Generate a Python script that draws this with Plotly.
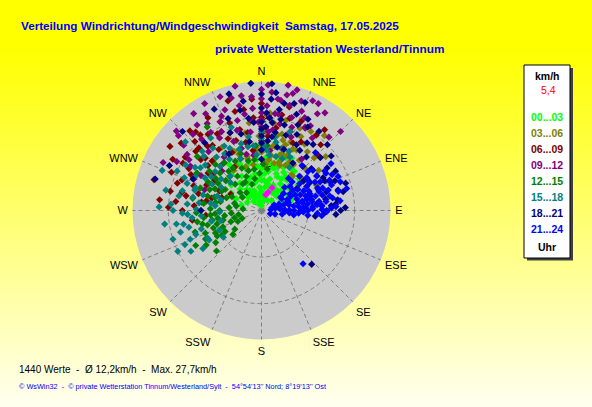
import plotly.graph_objects as go

W, H = 592, 407

# compass labels (every 22.5 degrees)
compass = ["N", "NNE", "NE", "ENE", "E", "ESE", "SE", "SSE",
           "S", "SSW", "SW", "WSW", "W", "WNW", "NW", "NNW"]
compass_deg = [i * 22.5 for i in range(16)]

# time classes (legend)
classes = ["00...03", "03...06", "06...09", "09...12",
           "12...15", "15...18", "18...21", "21...24"]
class_colors = ["#00ff00", "#808000", "#800000", "#800080",
                "#008000", "#008080", "#000080", "#0000ff"]

# wind direction (deg) / speed (km/h) per time class
dir_00_03 = [0, 340, 320, 330, 350, 10, 20, 30, 355, 345, 335, 325, 315, 305, 300, 310,
             5, 15, 25, 35, 45, 40, 50, 60, 30, 20, 10, 0, 350, 340, 330, 15, 25, 35,
             12, 5, 355, 320, 295, 285, 290, 55, 65, 45, 0,
             350, 5, 30, 40, 25, 15, 5, 355, 345, 335, 325, 330, 315, 300, 20, 30, 40,
             50, 60, 70, 15, 0, 340, 10, 35,
             358, 8, 18, 28, 38, 48, 352, 342, 332, 322, 2, 12, 22, 32, 42, 52, 57, 62,
             347, 337, 327, 7, 17, 27, 45, 36]
spd_00_03 = [1, 1.5, 2.5, 3, 3.5, 3, 4, 4.5, 5, 6, 7, 5.5, 6.5, 5, 7.5, 8.5,
             6.5, 7, 6, 7, 6, 8.5, 7.5, 6.5, 9.5, 10, 8.5, 9, 8, 9.5, 8.5, 12, 12.5, 11,
             14.5, 11.5, 11, 10, 6, 4.5, 8, 9.5, 4.5, 3, 6.5,
             2, 2, 2.5, 5, 8, 9.5, 8, 9.5, 10.5, 11, 12, 5, 4, 3.5, 11.5, 13, 11,
             10.5, 9, 7, 5.5, 4, 4.5, 10.5, 9,
             7.5, 5, 5.5, 5, 4.5, 4.5, 6.5, 7.5, 6.5, 7.5, 3.5, 6, 8.5, 8, 7, 6, 8, 8,
             3, 4, 4, 10, 9.5, 10.5, 9, 5.5]

dir_03_06 = [0, 5, 10, 15, 20, 25, 30, 35, 28, 32, 27, 17, 40, 45, 50, 355, 350, 345,
             340, 335, 330, 325, 20, 10, 0, 5, 15, 22, 38, 42, 8, 358, 348, 12, 30, 62,
             55, 320, 310, 300,
             0, 3, 8, 12, 18, 23, 28, 33, 37, 45, 50, 355, 350, 345, 338, 328, 318, 15,
             25, 5, 352, 40, 55, 65, 20]
spd_03_06 = [11, 10, 12, 10.5, 11, 13, 15, 12, 18, 20, 14.8, 15.8, 10, 13, 11, 13.5, 10, 12,
             10, 14, 11, 10.5, 13, 14, 12.5, 15, 17, 10.5, 16, 10, 19, 16, 17, 16.5, 12, 11,
             15, 13, 10, 12,
             14, 17, 11, 14, 12.5, 16, 11, 17, 13.5, 16, 18, 13, 15, 11.5, 13, 16, 15, 20,
             19.5, 21, 19, 21, 12, 13, 15]

dir_06_09 = [282, 281, 274, 291, 301, 316, 321, 343, 36, 24, 17, 280, 285, 290, 295, 300,
             305, 310, 315, 320, 325, 330, 335, 340, 345, 350, 355, 300, 305, 310, 312,
             318, 322, 328, 333, 338, 295, 288, 298, 5, 10, 15, 30, 42, 270, 265, 276,
             286, 347, 352,
             300, 305, 310, 315, 320, 325, 330, 335, 340, 345, 350, 355, 0, 0, 293, 297,
             303, 308, 313, 317, 323, 328, 333, 276, 283, 288, 272, 278, 284, 262, 20, 25,
             45, 38, 12]
spd_06_09 = [20, 16.5, 14.5, 18.3, 19.7, 20.6, 20.9, 24.6, 20, 21, 20.7, 12, 14, 15.5, 13, 16,
             14, 17, 15, 18, 16, 19, 17, 20, 18, 22, 20, 22, 24, 22.5, 19,
             23, 13, 11, 14, 12, 10, 9, 7.5, 16, 18, 23, 17, 19, 17, 12, 22,
             24, 15, 13,
             18, 20, 15, 19, 22, 20, 23, 21, 16, 22, 17, 24, 20, 23, 21, 17,
             12, 13, 16.5, 13, 17.5, 14.5, 19, 18.5, 17.5, 19, 20, 13, 11, 15, 18, 16,
             17, 22, 21]

dir_09_12 = [348, 16.4, 8.4, 15, 27.6, 313, 296, 310, 325, 42.6, 12.4, 0, 0, 0, 0, 0,
             355, 350, 345, 340, 335, 330, 338, 352, 358, 5, 5, 10, 20, 25, 30, 35, 22,
             18, 8, 3, 352, 342, 328, 320, 318, 305, 300, 290, 332, 3, 12, 28, 45, 38,
             48, 345, 315, 325, 300,
             0, 0, 0, 3, 3, 5, 8, 8, 10, 12, 15, 18, 20, 22, 25, 28, 30, 33, 355, 353,
             350, 348, 345, 343, 340, 337, 333, 330, 327, 323, 318, 312, 307, 302, 295]
spd_09_12 = [27.3, 27, 24.2, 23.4, 20.2, 25, 23.5, 21.8, 25.4, 21.4, 25.4, 24, 21, 18, 15, 13,
             22, 25, 20, 23, 21, 18, 16, 17, 19, 20, 17, 21, 25, 22, 24, 19, 17,
             14, 13, 13.5, 12, 14, 22, 20, 17, 19, 15, 13, 26, 27, 27.5, 26, 24, 14,
             17, 12.5, 12, 14, 21,
             26, 19.5, 16.5, 22.5, 18, 25.5, 21, 17.5, 24, 19, 26, 21, 19, 23, 26, 20, 21, 25,
             24.5, 19.5, 21, 23, 25, 18, 26, 22, 19, 24, 20, 23, 22, 24, 20, 18, 16]

dir_12_15 = [244, 245, 256, 259, 262, 250, 240, 235, 238, 248, 255, 265, 270, 275, 280, 285,
             290, 295, 300, 305, 310, 315, 320, 325, 330, 335, 340, 345, 350, 315, 300, 290,
             280, 270, 260, 252, 242, 327, 338, 310, 275, 260, 285, 305, 320, 340, 355, 5,
             230, 228,
             235, 240, 243, 247, 250, 253, 257, 260, 263, 266, 268, 272, 277, 282, 286, 292,
             296, 298, 302, 307, 312, 317, 322, 326, 332, 336, 342, 348, 352, 357, 2, 8,
             265, 255, 248, 280, 295, 310, 325, 238]
spd_12_15 = [11, 5.6, 8.5, 10.8, 8, 7, 9, 12, 14, 13, 12, 11, 9, 7, 10, 12,
             8, 11, 9, 12, 10, 8, 11, 9, 7, 10, 13, 11, 9, 14, 16, 14,
             15, 13, 14, 15, 16, 21.4, 18, 18, 4, 5, 6, 5, 5, 6, 14, 14,
             8, 13,
             7, 11, 13.5, 9, 11, 10, 13, 9.5, 12.5, 10, 14, 11, 12.5, 9, 10.5, 12,
             9.5, 13, 11, 14, 12, 10, 13, 11, 12, 8, 9, 7, 11, 8, 10, 9,
             6.5, 6, 4.5, 5.5, 7, 6, 7, 10]

dir_15_18 = [267, 240.7, 287, 303, 250, 255, 260, 265, 270, 275, 280, 285, 290, 295, 300, 305,
             310, 315, 320, 245, 258, 268, 278, 288, 298, 308, 318, 328, 338, 348, 355, 5,
             15, 25, 10, 0, 350, 340, 330, 246, 237, 252, 262, 235, 272, 282, 292, 312,
             325, 20, 0,
             243, 248, 253, 257, 261, 264, 268, 271, 274, 277, 281, 284, 289, 293, 297, 301,
             304, 309, 313, 317, 322, 327, 333, 343, 353, 2, 8, 12, 18, 22, 28, 33,
             240, 244, 256, 276, 285, 300, 312, 340]
spd_15_18 = [15.9, 12.9, 15, 17, 15, 18, 17, 13, 19, 16, 18, 13, 17, 20, 14, 16,
             13, 18, 15, 10, 11, 9, 11, 10, 12, 11, 10, 13, 12, 14, 12, 13,
             12, 14, 16, 17, 16, 19, 16, 18, 15, 20, 21, 10, 22, 21, 23, 22,
             19, 18, 15.5,
             13, 16.5, 13.5, 16, 18.5, 15, 17, 14, 19.5, 13.5, 15, 17.5, 15, 18, 16, 19,
             13, 15.5, 17, 13, 17, 14.5, 15, 15, 14, 14, 12, 15, 14, 12, 13, 11,
             17.5, 20, 9, 10, 9, 10, 9, 14]

dir_18_21 = [355.2, 4.7, 344.4, 350.5, 286.5, 296, 294.7, 270, 29, 34, 32.5, 33.5, 92, 96, 57,
             67.5, 137, 0, 0, 0, 0, 0, 5, 5, 5, 10, 10, 15, 20, 25, 20, 355, 350, 345,
             340, 335, 330, 315, 320, 40, 45, 50, 60, 70, 75, 80, 85, 88, 78, 65, 55, 72,
             62, 83, 90,
             0, 0, 0, 3, 3, 7, 7, 8, 12, 12, 14, 17, 18, 22, 23, 27, 28, 36, 38, 43,
             48, 52, 58, 62, 68, 74, 77, 82, 86, 90, 93, 58, 352, 348, 338]
spd_18_21 = [27.4, 27.3, 26, 23.8, 23.8, 22, 16.2, 13, 20.5, 17.5, 15.3, 12.2, 13.6, 11.6, 16.8,
             16, 15.8, 22, 19, 16, 13, 11, 24, 20, 15, 22, 17, 19, 22, 18, 14, 19, 15, 17,
             21, 24, 14, 24, 19, 15, 20, 14, 12, 13, 17, 14, 16, 18, 11, 15, 11, 19,
             18, 12, 17,
             25, 17.5, 14.5, 21, 18, 25.5, 19, 16, 23.5, 20, 14, 24, 17, 25, 20, 22, 16, 21,
             18, 13, 17, 19, 14, 15, 17, 14.5, 18, 16.5, 15, 14, 16, 9, 20, 22, 18]

dir_21_24 = [80, 85, 75, 88, 70, 82, 90, 65, 78, 86, 72, 60, 68, 80, 90, 75, 85, 62, 70, 78,
             88, 66, 58, 55, 50, 45, 60, 70, 95, 92, 84, 76, 64, 74, 80, 86, 72, 68, 82, 76,
             75.5, 142, 58, 52, 48, 40, 42, 56, 63, 89, 87, 93, 79, 66, 73, 43,
             55, 60, 65, 68, 70, 72, 74, 76, 78, 80, 82, 84, 86, 88, 90, 92, 94, 96, 98,
             100, 105, 110, 85, 75, 62, 58, 54, 50, 47, 52, 57, 64, 67, 71, 73, 77, 81,
             83, 87, 89, 91, 95, 60, 66, 70]
spd_21_24 = [3, 4, 5, 5, 6, 7, 7, 8, 8, 9, 10, 9, 11, 11, 10, 12, 13, 13, 14, 15,
             15, 16, 12, 10, 8, 7, 5, 4, 6, 9, 12, 10, 7, 6, 9, 11, 13, 9, 14, 17,
             18.9, 14.5, 16, 14, 11, 9, 13, 18, 17, 13, 16, 12, 4, 3, 2.5, 17,
             5, 7, 10, 13, 16, 8, 11, 13.5, 6, 15.5, 10, 8, 13, 11, 8.5, 5, 8, 10, 7,
             4.5, 3, 2, 2, 3, 11, 14, 12, 13, 9, 6, 8, 14, 6, 11, 15, 9, 12.5,
             17, 9.5, 6, 14, 13, 16, 18, 18]

# latest values (5,4 km/h)
dir_now = [20, 25, 15]
spd_now = [4.2, 5.4, 3.5]

class_dirs = [dir_00_03, dir_03_06, dir_06_09, dir_09_12,
              dir_12_15, dir_15_18, dir_18_21, dir_21_24]
class_spds = [spd_00_03, spd_03_06, spd_06_09, spd_09_12,
              spd_12_15, spd_15_18, spd_18_21, spd_21_24]

r_max = 27.7


def px(x):
    return x / W


def py(y):
    return 1 - y / H


def add_text(fig, x, y, text, size, color, anchor="left"):
    fig.add_annotation(x=px(x), y=py(y), xref="paper", yref="paper",
                       xanchor=anchor, yanchor="middle", text=text, showarrow=False,
                       font=dict(size=size, color=color))


fig = go.Figure()

# yellow -> pale background
fig.add_trace(go.Heatmap(
    z=[[0, 0], [1, 1]], x=[0, 1], y=[0, 1],
    colorscale=[[0, "#fffff0"], [0.88, "#ffff00"], [1, "#ffff00"]],
    zsmooth="best", showscale=False, hoverinfo="skip",
    xaxis="x", yaxis="y"))

# chronological order, later hours drawn on top
for name, color, dirs, spds in zip(classes, class_colors, class_dirs, class_spds):
    fig.add_trace(go.Scatterpolar(
        r=spds, theta=dirs, mode="markers", name=name,
        marker=dict(symbol="diamond", size=5.5, color=color, line=dict(width=0)),
        showlegend=False))

fig.add_trace(go.Scatterpolar(
    r=spd_now, theta=dir_now, mode="markers", name="aktuell",
    marker=dict(symbol="diamond", size=5.5, color="#ff00ff", line=dict(width=0)),
    showlegend=False))

cx, cy, rad = 261.5, 210.5, 129

fig.update_layout(
    width=W, height=H,
    margin=dict(l=0, r=0, t=0, b=0),
    paper_bgcolor="#ffff80",
    font=dict(family="Arial, Liberation Sans", color="black"),
    xaxis=dict(domain=[0, 1], range=[0, 1], visible=False, fixedrange=True),
    yaxis=dict(domain=[0, 1], range=[0, 1], visible=False, fixedrange=True),
    polar=dict(
        domain=dict(x=[px(cx - rad), px(cx + rad)], y=[py(cy + rad), py(cy - rad)]),
        bgcolor="#cbcbcb",
        angularaxis=dict(
            rotation=90, direction="clockwise",
            tickmode="array", tickvals=compass_deg, ticktext=compass,
            ticks="outside", ticklen=2, tickcolor="rgba(0,0,0,0)",
            showline=False, gridcolor="#7f7f7f", gridwidth=1, griddash="4px,3px",
            layer="below traces",
            tickfont=dict(size=11, color="black")),
        radialaxis=dict(
            range=[0, r_max], tickvals=[10, 20], ticktext=["10", "20"],
            angle=90, showline=False, ticks="",
            gridcolor="#7f7f7f", gridwidth=1, griddash="4px,3px",
            layer="below traces",
            tickfont=dict(size=10, color="black"))),
)

# titles
add_text(fig, 19, 26, "<b>Verteilung Windrichtung/Windgeschwindigkeit  Samstag, 17.05.2025</b>",
         11.7, "#0000ff")
add_text(fig, 213, 49, "<b>private Wetterstation Westerland/Tinnum</b>", 11.8, "#0000ff")

# footer
add_text(fig, 17, 369, "1440 Werte  -  Ø 12,2km/h  -  Max. 27,7km/h", 10, "black")
add_text(fig, 17, 386, "© WsWin32  -  © private Wetterstation Tinnum/Westerland/Sylt  -  "
                       "54°54'13'' Nord; 8°19'13'' Ost", 7.3, "#0000ff")

# legend box with shadow
fig.add_shape(type="rect", xref="paper", yref="paper",
              x0=px(527), x1=px(573), y0=py(260.5), y1=py(68),
              fillcolor="#404040", line=dict(width=0), layer="above")
fig.add_shape(type="rect", xref="paper", yref="paper",
              x0=px(524), x1=px(570), y0=py(258), y1=py(65),
              fillcolor="white", line=dict(color="black", width=1), layer="above")

add_text(fig, 547, 75.5, "<b>km/h</b>", 10.5, "black", "center")
add_text(fig, 548, 90, "5,4", 10.5, "#ff0000", "center")
for i, (name, color) in enumerate(zip(classes, class_colors)):
    add_text(fig, 547, 117.5 + i * 15.95, f"<b>{name}</b>", 10.5, color, "center")
add_text(fig, 547, 246.5, "<b>Uhr</b>", 10.5, "black", "center")

fig.write_html("out.html", config={"displayModeBar": False},
               post_script="document.body.style.margin='0px';")
